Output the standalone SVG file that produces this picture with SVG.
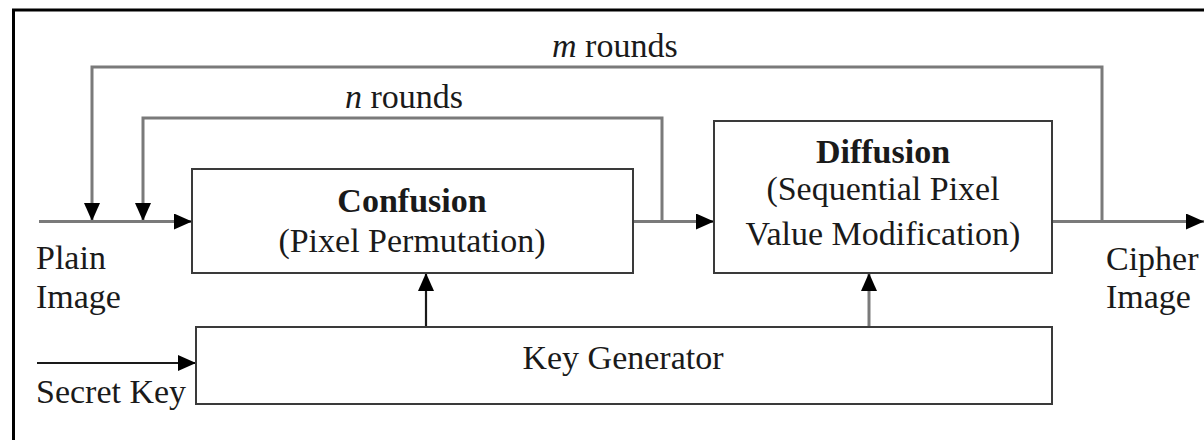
<svg xmlns="http://www.w3.org/2000/svg" width="1204" height="440" viewBox="0 0 1204 440">
  <style>
    .frame { fill: none; stroke: #000; stroke-width: 3; }
    .box { fill: #fff; stroke: #3a3a3a; stroke-width: 2; }
    .wire { fill: none; stroke: #7a7a7a; stroke-width: 3; }
    .wire-dark { fill: none; stroke: #1a1a1a; stroke-width: 2.2; }
    text { font-family: "Liberation Serif", "Times New Roman", serif; font-size: 34px; fill: #1a1a1a; }
    .b { font-weight: bold; }
    .i { font-style: italic; }
    .c { text-anchor: middle; }
  </style>
  <defs>
    <marker id="arrow" markerUnits="userSpaceOnUse" markerWidth="18" markerHeight="16" viewBox="0 0 18 16" refX="18" refY="8" orient="auto">
      <path d="M0,0 L18,8 L0,16 Z" fill="#000"/>
    </marker>
  </defs>

  <!-- frame edges -->
  <path class="frame" d="M13.5,440 V10 H1204"/>

  <!-- connectors -->
  <g id="connectors">
    <!-- m-round feedback loop -->
    <path class="wire" d="M1102,221.5 V67 H92 V221" marker-end="url(#arrow)"/>
    <!-- n-round feedback loop -->
    <path class="wire" d="M662,221.5 V118 H143 V221" marker-end="url(#arrow)"/>
    <!-- plain image in -->
    <path class="wire" d="M39,221.5 H192" marker-end="url(#arrow)"/>
    <!-- confusion to diffusion -->
    <path class="wire" d="M633,221.5 H714" marker-end="url(#arrow)"/>
    <!-- diffusion out -->
    <path class="wire" d="M1052,221.5 H1204" marker-end="url(#arrow)"/>
    <!-- secret key in -->
    <path class="wire-dark" d="M37,363 H196" marker-end="url(#arrow)"/>
    <!-- key generator feeds -->
    <path class="wire-dark" d="M426,327 V273" marker-end="url(#arrow)"/>
    <path class="wire" d="M869,327 V273" marker-end="url(#arrow)"/>
  </g>

  <!-- nodes -->
  <g id="confusion">
    <rect class="box" x="192" y="169" width="441" height="104"/>
    <text class="c b" x="412" y="212">Confusion</text>
    <text class="c" x="412" y="252">(Pixel Permutation)</text>
  </g>
  <g id="diffusion">
    <rect class="box" x="714" y="121" width="338" height="152"/>
    <text class="c b" x="883" y="163">Diffusion</text>
    <text class="c" x="883" y="200">(Sequential Pixel</text>
    <text class="c" x="883" y="245">Value Modification)</text>
  </g>
  <g id="key-generator">
    <rect class="box" x="196" y="327" width="856" height="77"/>
    <text class="c" x="623" y="369">Key Generator</text>
  </g>

  <!-- labels -->
  <g id="labels">
    <text x="552" y="57"><tspan class="i">m</tspan> rounds</text>
    <text x="345" y="108"><tspan class="i">n</tspan> rounds</text>
    <text x="36" y="269">Plain</text>
    <text x="36" y="308">Image</text>
    <text x="36" y="403">Secret Key</text>
    <text x="1106" y="270">Cipher</text>
    <text x="1106" y="308">Image</text>
  </g>
</svg>
